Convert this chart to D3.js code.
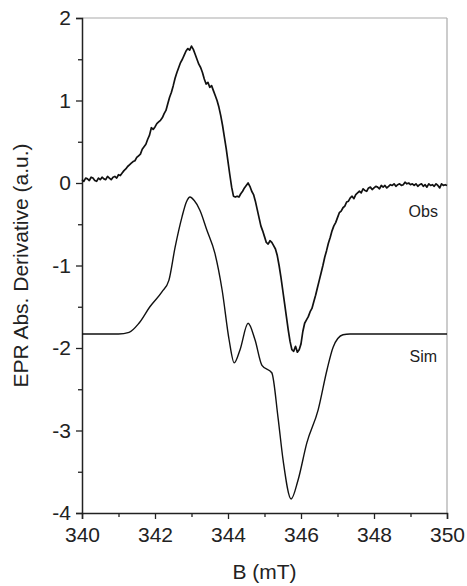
<!DOCTYPE html>
<html>
<head>
<meta charset="utf-8">
<script src="https://cdn.jsdelivr.net/npm/d3@7"></script>
<style>
  body { margin: 0; background: #fff; }
  svg { display: block; }
  text { font-family: "Liberation Sans", Arial, sans-serif; fill: #222; }
</style>
</head>
<body>
<svg id="chart" width="467" height="586"></svg>
<script>
// Observed spectrum, sampled every 0.05 mT from 340 to 350
var obsStart = 340, obsStep = 0.05;
var obsValues = [
  0.04, 0.02, 0.06, 0.05, 0.03, 0.07, 0.06, 0.03, 0.02, 0.06,
  0.04, 0.07, 0.05, 0.04, 0.08, 0.06, 0.04, 0.07, 0.08, 0.06,
  0.10, 0.09, 0.12, 0.15, 0.17, 0.20, 0.22, 0.24, 0.26, 0.27,
  0.31, 0.33, 0.35, 0.41, 0.44, 0.47, 0.53, 0.58, 0.67, 0.65,
  0.68, 0.72, 0.74, 0.76, 0.79, 0.84, 0.88, 0.96, 1.04, 1.10,
  1.18, 1.27, 1.34, 1.40, 1.46, 1.50, 1.55, 1.60, 1.63, 1.61,
  1.66, 1.62, 1.56, 1.50, 1.44, 1.40, 1.34, 1.26, 1.20, 1.22,
  1.16, 1.18, 1.12, 1.06, 1.00, 0.92, 0.82, 0.70, 0.56, 0.42,
  0.26, 0.10, -0.05, -0.16, -0.17, -0.16, -0.17, -0.13, -0.10, -0.06,
  -0.03, 0.00, -0.04, -0.10, -0.14, -0.22, -0.32, -0.42, -0.52, -0.58,
  -0.65, -0.72, -0.74, -0.70, -0.72, -0.76, -0.80, -0.88, -1.00, -1.14,
  -1.30, -1.46, -1.62, -1.78, -1.92, -2.02, -2.04, -1.98, -2.05, -2.02,
  -1.95, -1.80, -1.70, -1.66, -1.62, -1.56, -1.52, -1.44, -1.36, -1.27,
  -1.18, -1.09, -1.00, -0.90, -0.82, -0.73, -0.66, -0.58, -0.52, -0.48,
  -0.42, -0.36, -0.34, -0.30, -0.28, -0.23, -0.22, -0.18, -0.16, -0.19,
  -0.14, -0.12, -0.10, -0.12, -0.07, -0.09, -0.10, -0.06, -0.05, -0.08,
  -0.06, -0.04, -0.05, -0.07, -0.03, -0.05, -0.03, -0.06, -0.04, -0.02,
  -0.03, -0.01, -0.04, -0.02, -0.01, -0.03, -0.02, 0.01, -0.01, 0.00,
  -0.02, -0.01, -0.03, -0.01, -0.04, -0.02, -0.01, -0.04, -0.02, -0.05,
  -0.01, -0.03, -0.02, -0.04, -0.01, -0.03, -0.06, -0.01, -0.03, -0.02,
  -0.03
];

// Simulated spectrum (field mT, value)
var simField = [340, 341.0, 341.29, 341.56, 341.86, 342.19, 342.38, 342.55, 342.74, 342.86,
  342.96, 343.07, 343.23, 343.42, 343.64, 343.84, 344.03, 344.17, 344.33, 344.55,
  344.74, 344.93, 345.2, 345.37, 345.51, 345.73, 345.92, 346.16, 346.47, 346.71,
  346.88, 347.15, 347.34, 350];
var simValues = [-1.83, -1.83, -1.81, -1.70, -1.50, -1.32, -1.18, -0.78, -0.41, -0.23,
  -0.17, -0.21, -0.33, -0.57, -0.85, -1.30, -1.90, -2.18, -2.02, -1.70,
  -1.90, -2.21, -2.30, -2.84, -3.36, -3.83, -3.60, -3.15, -2.75, -2.27,
  -1.99, -1.84, -1.83, -1.83];

var xTicks = [340, 342, 344, 346, 348, 350];
var yTicks = [-4, -3, -2, -1, 0, 1, 2];

var margin = {top: 18, right: 20, bottom: 73, left: 82};
var width = 467 - margin.left - margin.right,
    height = 586 - margin.top - margin.bottom;

var svg = d3.select("#chart");
var g = svg.append("g")
    .attr("transform", "translate(" + margin.left + "," + margin.top + ")");

var x = d3.scaleLinear().domain([340, 350]).range([0, width]);
var y = d3.scaleLinear().domain([-4, 2]).range([height, 0]);

// frame: top and right in grey
g.append("line").attr("x1", 0).attr("x2", width).attr("y1", 0).attr("y2", 0)
    .style("stroke", "#aaa").style("stroke-width", 1.2);
g.append("line").attr("x1", width).attr("x2", width).attr("y1", 0).attr("y2", height)
    .style("stroke", "#aaa").style("stroke-width", 1.2);

// bottom axis
var xAxis = g.append("g").attr("transform", "translate(0," + height + ")")
    .call(d3.axisBottom(x).tickValues(xTicks).tickFormat(d3.format("d")).tickSize(6).tickPadding(8));
g.append("g").attr("transform", "translate(0," + height + ")")
    .call(d3.axisBottom(x).tickValues(d3.range(341, 350, 2)).tickFormat("").tickSize(4))
    .select(".domain").remove();

// left axis
var yAxis = g.append("g")
    .call(d3.axisLeft(y).tickValues(yTicks).tickFormat(d3.format("d")).tickSize(6).tickPadding(5));
g.append("g")
    .call(d3.axisLeft(y).tickValues(d3.range(-3.5, 2, 1)).tickFormat("").tickSize(4))
    .select(".domain").remove();

g.selectAll(".domain").style("stroke", "#222").style("stroke-width", 1.5);
g.selectAll(".tick line").style("stroke", "#222").style("stroke-width", 1.3);
xAxis.selectAll("text").style("font-size", "21px").style("fill", "#222");
yAxis.selectAll("text").style("font-size", "21px").style("fill", "#222")
    .text(function(d) { return d < 0 ? "-" + Math.abs(d) : d; });

// data lines
var obsData = obsValues.map(function(v, i) { return [obsStart + i * obsStep, v]; });
var simData = simField.map(function(b, i) { return [b, simValues[i]]; });

var line = d3.line()
    .x(function(d) { return x(d[0]); })
    .y(function(d) { return y(d[1]); });

g.append("path").datum(obsData)
    .attr("d", line)
    .style("fill", "none").style("stroke", "#111").style("stroke-width", 1.7)
    .style("stroke-linejoin", "round");

g.append("path").datum(simData)
    .attr("d", line.curve(d3.curveMonotoneX))
    .style("fill", "none").style("stroke", "#111").style("stroke-width", 1.4);

// series labels
g.append("text").attr("x", x(349.35)).attr("y", y(-0.41))
    .attr("text-anchor", "middle").style("font-size", "16px").text("Obs");
g.append("text").attr("x", x(349.35)).attr("y", y(-2.17))
    .attr("text-anchor", "middle").style("font-size", "16px").text("Sim");

// axis titles
svg.append("text")
    .attr("x", margin.left + width / 2).attr("y", 579)
    .attr("text-anchor", "middle").style("font-size", "21px").text("B (mT)");
svg.append("text")
    .attr("transform", "translate(28," + (margin.top + height / 2) + ") rotate(-90)")
    .attr("text-anchor", "middle").style("font-size", "21px").text("EPR Abs. Derivative (a.u.)");
</script>
</body>
</html>
